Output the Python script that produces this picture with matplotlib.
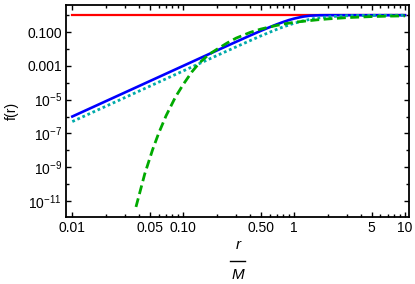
import matplotlib
matplotlib.use("Agg")
import matplotlib.pyplot as plt
from matplotlib.ticker import FixedLocator, FixedFormatter, NullFormatter
from matplotlib.lines import Line2D

plt.rcParams["font.family"] = ["Liberation Sans", "DejaVu Sans"]
plt.rcParams["mathtext.fontset"] = "custom"
plt.rcParams["mathtext.rm"] = "Liberation Sans"
plt.rcParams["mathtext.it"] = "Liberation Sans:italic"
plt.rcParams["mathtext.default"] = "regular"

# values
r_blue = [0.01, 0.1, 0.2, 0.3, 0.4, 0.5, 0.6, 0.7, 0.8, 0.9, 1.0, 1.2, 1.4, 1.7, 2.0, 10.0]
f_blue = [1.0e-6, 1.0e-3, 8.0e-3, 0.0266, 0.062, 0.118, 0.194, 0.29, 0.40, 0.52,
          0.63, 0.82, 0.94, 0.993, 1.0, 1.0]

r_cyan = [0.01, 0.1, 0.2, 0.3, 0.4, 0.5, 0.6, 0.7, 0.8, 1.0, 1.2, 1.5, 2.0, 3.0, 5.0, 10.0]
f_cyan = [5.0e-7, 5.0e-4, 4.0e-3, 0.0133, 0.031, 0.059, 0.097, 0.146, 0.204,
          0.333, 0.46, 0.63, 0.80, 0.93, 0.984, 0.998]

r_green = [0.0375, 0.045, 0.053, 0.06, 0.07, 0.085, 0.1, 0.12, 0.14, 0.17, 0.2,
           0.25, 0.3, 0.4, 0.5, 0.6, 0.7, 0.8, 1.0, 1.3, 1.6, 2.0, 3.0, 5.0, 7.0, 10.0]
f_green = [4.4e-12, 4.0e-10, 1.1e-8, 1.0e-7, 1.1e-6, 1.4e-5, 7.9e-5, 4.5e-4, 1.5e-3,
           4.7e-3, 9.3e-3, 0.023, 0.044, 0.095, 0.15, 0.20, 0.25, 0.30, 0.38, 0.46,
           0.53, 0.60, 0.72, 0.83, 0.88, 0.91]

r_red = [0.01, 10.0]
f_red = [1.0, 1.0]

x_ticks = [0.01, 0.05, 0.1, 0.5, 1, 5, 10]
x_labels = ["0.01", "0.05", "0.10", "0.50", "1", "5", "10"]
x_minor = [0.02, 0.03, 0.04, 0.06, 0.07, 0.08, 0.09, 0.2, 0.3, 0.4, 0.6, 0.7, 0.8,
           0.9, 2, 3, 4, 6, 7, 8, 9]
y_ticks = [1e-1, 1e-3, 1e-5, 1e-7, 1e-9, 1e-11]
y_labels = ["0.100", "0.001", r"$10^{-5}$", r"$10^{-7}$", r"$10^{-9}$", r"$10^{-11}$"]
y_minor = [1e0, 1e-2, 1e-4, 1e-6, 1e-8, 1e-10]

fig = plt.figure(figsize=(4.15, 2.84), dpi=100)
ax = fig.add_axes([0.159, 0.236, 0.827, 0.746])

ax.plot(r_red, f_red, color="#ff0000", lw=1.6)
ax.plot(r_blue, f_blue, color="#0000ff", lw=1.9)
ax.plot(r_cyan, f_cyan, color="#00aaaa", lw=2.0, linestyle=(0, (1.0, 1.0)))
ax.plot(r_green, f_green, color="#00aa00", lw=2.0, linestyle=(0, (3.2, 1.6)))

ax.set_xscale("log")
ax.set_yscale("log")
ax.set_xlim(0.00877, 10.9)
ax.set_ylim(1.12e-12, 3.96)

ax.xaxis.set_major_locator(FixedLocator(x_ticks))
ax.xaxis.set_major_formatter(FixedFormatter(x_labels))
ax.xaxis.set_minor_locator(FixedLocator(x_minor))
ax.xaxis.set_minor_formatter(NullFormatter())
ax.yaxis.set_major_locator(FixedLocator(y_ticks))
ax.yaxis.set_major_formatter(FixedFormatter(y_labels))
ax.yaxis.set_minor_locator(FixedLocator(y_minor))
ax.yaxis.set_minor_formatter(NullFormatter())

ax.tick_params(which="both", direction="in", top=True, right=True, width=1.0,
               labelsize=10, pad=3)
ax.tick_params(which="major", length=3.5)
ax.tick_params(which="minor", length=2)
for s in ax.spines.values():
    s.set_linewidth(1.3)

fig.text(0.029, 0.61, "f(r)", rotation=90, ha="center", va="center", fontsize=10)

# r / M fraction under the x axis
fig.text(0.574, 0.137, "r", style="italic", ha="center", va="center", fontsize=11)
fig.add_artist(Line2D([0.554, 0.591], [0.081, 0.081], color="black", lw=1.0))
fig.text(0.574, 0.03, "M", style="italic", ha="center", va="center", fontsize=11)

fig.savefig("out.png", dpi=100)
